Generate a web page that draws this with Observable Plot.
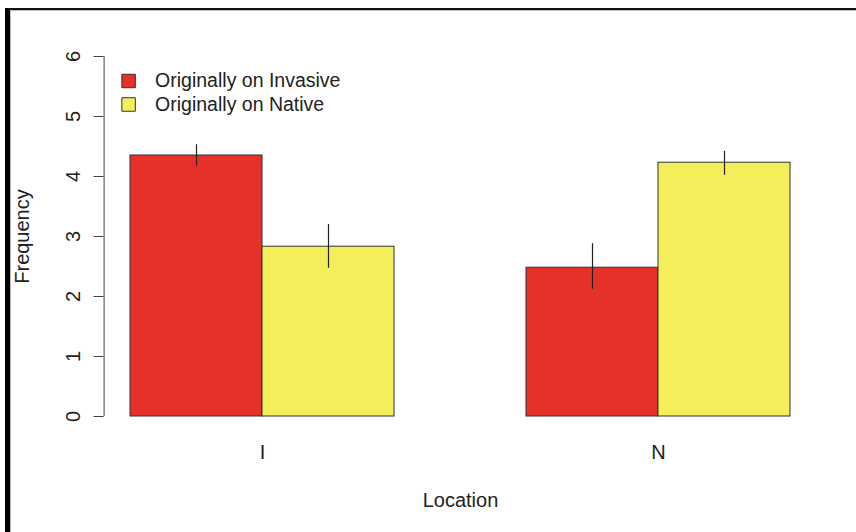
<!DOCTYPE html>
<html>
<head>
<meta charset="utf-8">
<script src="https://cdn.jsdelivr.net/npm/d3@7"></script>
<script src="https://cdn.jsdelivr.net/npm/@observablehq/plot@0.6"></script>
<style>
  html, body { margin: 0; padding: 0; background: #fff; }
  #wrap { position: relative; width: 856px; height: 532px; overflow: hidden; }
  #frame { position: absolute; left: 5px; top: 8px; width: 860px; height: 540px;
           border-left: 5px solid #000; border-top: 2px solid #111;
           box-shadow: inset 1px 1px 0 #bbb; box-sizing: border-box; }
  #chart { position: absolute; left: 0; top: 0; }
</style>
</head>
<body>
<div id="wrap"><div id="frame"></div><div id="chart"></div></div>
<script>
// ---- data ----
const groups = ["I", "N"];
const series = ["Originally on Invasive", "Originally on Native"];
const colors = ["#E5312A", "#F3EE5A"];
const meanInvasive = [4.35, 2.48];   // per group
const meanNative   = [2.83, 4.23];
const lowInvasive  = [4.17, 2.12];
const highInvasive = [4.53, 2.88];
const lowNative    = [2.47, 4.02];
const highNative   = [3.20, 4.42];
const yTicks = [0, 1, 2, 3, 4, 5, 6];
const xLabel = "Location";
const yLabel = "Frequency";

// ---- table built from the arrays (R barplot beside layout) ----
const means = [meanInvasive, meanNative];
const lows = [lowInvasive, lowNative];
const highs = [highInvasive, highNative];
const rows = [];
groups.forEach((g, gi) => {
  series.forEach((s, si) => {
    const x1 = 1 + gi * (series.length + 1) + si;
    rows.push({group: g, series: s, value: means[si][gi], lo: lows[si][gi], hi: highs[si][gi],
               x1, x2: x1 + 1, xc: x1 + 0.5});
  });
});
const groupCenters = groups.map(g => {
  const r = rows.filter(d => d.group === g);
  return {group: g, x: (d3.min(r, d => d.x1) + d3.max(r, d => d.x2)) / 2};
});
const xmin = d3.min(rows, d => d.x1), xmax = d3.max(rows, d => d.x2);
const pad = (xmax - xmin) * 0.04;
const xDomain = [xmin - pad, xmax + pad];

const FS = 20;
const LFS = 19.5;
const legendMarks = series.flatMap((s, i) => [
  Plot.dot([s], {frameAnchor: "top-left", dx: 24.5, dy: 24.5 + i * 23.5, symbol: "square",
                 r: 7.6, fill: colors[i], stroke: "#333", strokeWidth: 1}),
  Plot.text([s], {text: d => d, frameAnchor: "top-left", dx: 51, dy: 24.5 + i * 23.5,
                  textAnchor: "start", lineAnchor: "middle", fontSize: LFS, fill: "#222"})
]);

const chart = Plot.plot({
  width: 856,
  height: 532,
  marginLeft: 103.6,
  marginRight: 39.6,
  marginTop: 56,
  marginBottom: 116,
  style: {fontFamily: "'Liberation Sans', Arial, sans-serif", fontSize: FS + "px", background: "transparent", color: "#222"},
  x: {domain: xDomain, axis: null},
  y: {domain: [yTicks[0], yTicks[yTicks.length - 1]], axis: null},
  color: {domain: series, range: colors},
  marks: [
    Plot.rect(rows, {x1: "x1", x2: "x2", y1: 0, y2: "value", fill: "series", stroke: "#333", strokeWidth: 1}),
    Plot.ruleX(rows, {x: "xc", y1: "lo", y2: "hi", stroke: "#222", strokeWidth: 1.2}),
    // y axis
    Plot.ruleX([xDomain[0]], {y1: yTicks[0], y2: yTicks[yTicks.length - 1], stroke: "#444"}),
    Plot.axisY({ticks: yTicks, tickSize: 10, tickFormat: () => "", label: null, stroke: "#444"}),
    Plot.text(yTicks, {y: d => d, text: d => String(d), frameAnchor: "left", dx: -31, rotate: -90,
                       textAnchor: "middle", fontSize: FS, fill: "#222", lineAnchor: "middle"}),
    // x group labels
    Plot.text(groupCenters, {x: "x", text: "group", frameAnchor: "bottom", dy: 36, lineAnchor: "middle", fontSize: FS, fill: "#222"}),
    // axis titles
    Plot.text([xLabel], {text: d => d, frameAnchor: "bottom", dy: 84, lineAnchor: "middle", fontSize: FS, fill: "#222"}),
    Plot.text([yLabel], {text: d => d, frameAnchor: "left", dx: -81.5, rotate: -90, textAnchor: "middle",
                         lineAnchor: "middle", fontSize: FS, fill: "#222"}),
    ...legendMarks
  ]
});
document.getElementById("chart").appendChild(chart);
</script>
</body>
</html>
